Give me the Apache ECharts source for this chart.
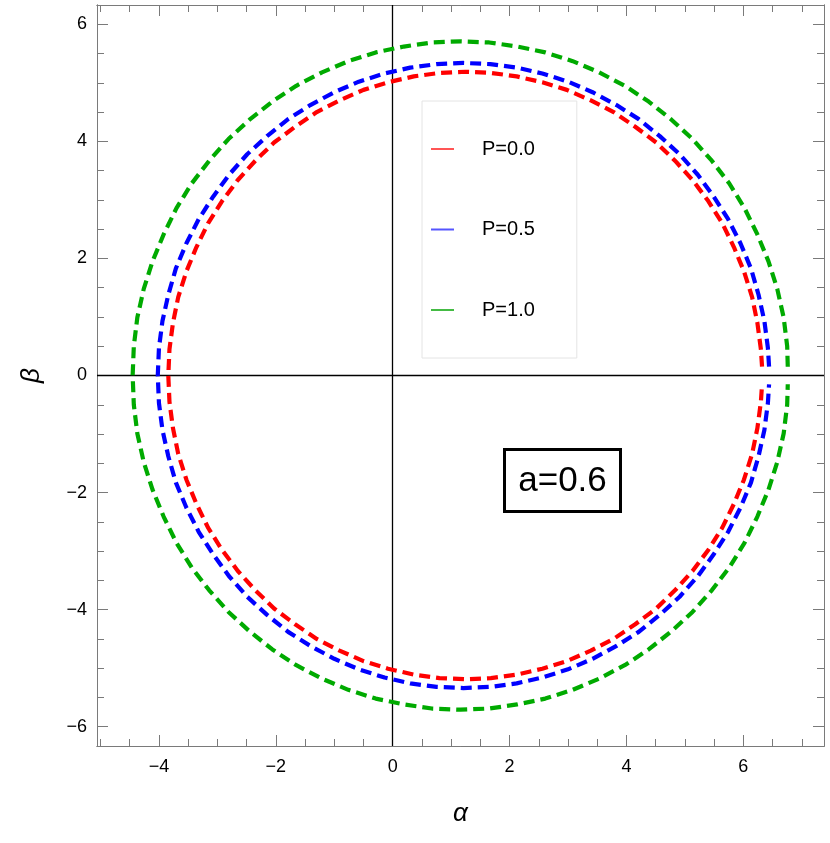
<!DOCTYPE html>
<html>
<head>
<meta charset="utf-8">
<script src="https://cdn.jsdelivr.net/npm/echarts@6/dist/echarts.min.js"></script>
<style>
html,body{margin:0;padding:0;background:#fff;}
#chart{width:830px;height:843px;}
</style>
</head>
<body>
<div id="chart"></div>
<script>
// ---- data ----
const seriesNames = ['P=0.0', 'P=0.5', 'P=1.0'];

const redCurve = [
  [6.32, 0.15], [6.30, 0.45], [6.24, 0.90], [6.15, 1.34], [6.01, 1.78], [5.84, 2.19], [5.64, 2.60],
  [5.40, 2.98], [5.13, 3.34], [4.83, 3.67], [4.51, 3.98], [4.15, 4.25], [3.78, 4.50], [3.39, 4.70],
  [2.98, 4.88], [2.56, 5.01], [2.12, 5.11], [1.68, 5.17], [1.24, 5.19],
  [0.80, 5.17], [0.36, 5.11], [-0.08, 5.01], [-0.50, 4.88], [-0.91, 4.70], [-1.30, 4.50], [-1.67, 4.25],
  [-2.03, 3.98], [-2.35, 3.67], [-2.65, 3.34], [-2.92, 2.98], [-3.16, 2.60], [-3.36, 2.19], [-3.53, 1.78],
  [-3.67, 1.34], [-3.76, 0.90], [-3.82, 0.45], [-3.84, 0.00],
  [-3.82, -0.45], [-3.76, -0.90], [-3.67, -1.34], [-3.53, -1.78], [-3.36, -2.19], [-3.16, -2.60], [-2.92, -2.98],
  [-2.65, -3.34], [-2.35, -3.67], [-2.03, -3.98], [-1.67, -4.25], [-1.30, -4.50], [-0.91, -4.70], [-0.50, -4.88],
  [-0.08, -5.01], [0.36, -5.11], [0.80, -5.17], [1.24, -5.19],
  [1.68, -5.17], [2.12, -5.11], [2.56, -5.01], [2.98, -4.88], [3.39, -4.70], [3.78, -4.50], [4.15, -4.25],
  [4.51, -3.98], [4.83, -3.67], [5.13, -3.34], [5.40, -2.98], [5.64, -2.60], [5.84, -2.19], [6.01, -1.78],
  [6.15, -1.34], [6.24, -0.90], [6.30, -0.45], [6.32, -0.15]
];
const blueCurve = [
  [6.44, 0.15], [6.42, 0.47], [6.36, 0.93], [6.26, 1.38], [6.13, 1.83], [5.95, 2.26], [5.74, 2.67],
  [5.49, 3.06], [5.22, 3.43], [4.91, 3.78], [4.57, 4.09], [4.21, 4.38], [3.83, 4.62], [3.42, 4.84],
  [3.00, 5.02], [2.56, 5.16], [2.12, 5.26], [1.67, 5.32], [1.21, 5.34],
  [0.75, 5.32], [0.30, 5.26], [-0.14, 5.16], [-0.58, 5.02], [-1.00, 4.84], [-1.41, 4.62], [-1.79, 4.38],
  [-2.15, 4.09], [-2.49, 3.78], [-2.80, 3.43], [-3.07, 3.06], [-3.32, 2.67], [-3.53, 2.26], [-3.71, 1.83],
  [-3.84, 1.38], [-3.94, 0.93], [-4.00, 0.47], [-4.02, 0.00],
  [-4.00, -0.47], [-3.94, -0.93], [-3.84, -1.38], [-3.71, -1.83], [-3.53, -2.26], [-3.32, -2.67], [-3.07, -3.06],
  [-2.80, -3.43], [-2.49, -3.78], [-2.15, -4.09], [-1.79, -4.38], [-1.41, -4.62], [-1.00, -4.84], [-0.58, -5.02],
  [-0.14, -5.16], [0.30, -5.26], [0.75, -5.32], [1.21, -5.34],
  [1.67, -5.32], [2.12, -5.26], [2.56, -5.16], [3.00, -5.02], [3.42, -4.84], [3.83, -4.62], [4.21, -4.38],
  [4.57, -4.09], [4.91, -3.78], [5.22, -3.43], [5.49, -3.06], [5.74, -2.67], [5.95, -2.26], [6.13, -1.83],
  [6.26, -1.38], [6.36, -0.93], [6.42, -0.47], [6.44, -0.15]
];
const greenCurve = [
  [6.76, 0.15], [6.75, 0.50], [6.69, 0.99], [6.58, 1.48], [6.43, 1.95], [6.24, 2.41], [6.02, 2.86],
  [5.76, 3.28], [5.46, 3.67], [5.13, 4.04], [4.77, 4.37], [4.38, 4.68], [3.97, 4.95], [3.53, 5.18],
  [3.08, 5.37], [2.61, 5.52], [2.13, 5.62], [1.65, 5.69], [1.16, 5.71],
  [0.67, 5.69], [0.19, 5.62], [-0.29, 5.52], [-0.76, 5.37], [-1.21, 5.18], [-1.65, 4.95], [-2.06, 4.68],
  [-2.45, 4.37], [-2.81, 4.04], [-3.14, 3.67], [-3.44, 3.28], [-3.70, 2.86], [-3.92, 2.41], [-4.11, 1.95],
  [-4.26, 1.48], [-4.37, 0.99], [-4.43, 0.50], [-4.45, 0.00],
  [-4.43, -0.50], [-4.37, -0.99], [-4.26, -1.48], [-4.11, -1.95], [-3.92, -2.41], [-3.70, -2.86], [-3.44, -3.28],
  [-3.14, -3.67], [-2.81, -4.04], [-2.45, -4.37], [-2.06, -4.68], [-1.65, -4.95], [-1.21, -5.18], [-0.76, -5.37],
  [-0.29, -5.52], [0.19, -5.62], [0.67, -5.69], [1.16, -5.71],
  [1.65, -5.69], [2.13, -5.62], [2.61, -5.52], [3.08, -5.37], [3.53, -5.18], [3.97, -4.95], [4.38, -4.68],
  [4.77, -4.37], [5.13, -4.04], [5.46, -3.67], [5.76, -3.28], [6.02, -2.86], [6.24, -2.41], [6.43, -1.95],
  [6.58, -1.48], [6.69, -0.99], [6.75, -0.50], [6.76, -0.15]
];

const xMajorTicks = [-4, -2, 0, 2, 4, 6];
const yMajorTicks = [-6, -4, -2, 0, 2, 4, 6];
const xMinorTicks = [-5, -4.5, -3.5, -3, -2.5, -1.5, -1, -0.5, 0.5, 1, 1.5, 2.5, 3, 3.5, 4.5, 5, 5.5, 6.5, 7];
const yMinorTicks = [-5.5, -5, -4.5, -3.5, -3, -2.5, -1.5, -1, -0.5, 0.5, 1, 1.5, 2.5, 3, 3.5, 4.5, 5, 5.5];
const xRange = [-5.06, 7.38];
const yRange = [-6.33, 6.33];
const annotationText = 'a=0.6';

// ---- chart ----
const FONT = 'Liberation Sans, Arial, sans-serif';
const minus = v => String(v).replace('-', '\u2212');
const frameColor = '#7a7a7a';

function makeAxis(dim, pos, ticks, len, withLabel, extra) {
  const isX = dim === 'x';
  const ax = {
    type: 'value',
    position: pos,
    min: isX ? xRange[0] : yRange[0],
    max: isX ? xRange[1] : yRange[1],
    axisLine: { show: true, onZero: false, lineStyle: { color: frameColor, width: 1 } },
    axisTick: { show: true, inside: true, length: len, customValues: ticks,
                lineStyle: { color: frameColor, width: 1 } },
    axisLabel: withLabel ? {
      show: true, customValues: ticks, formatter: minus,
      fontFamily: FONT, fontSize: 18, color: '#000',
      margin: isX ? 12 : 10
    } : { show: false },
    splitLine: { show: false },
    minorTick: { show: false }
  };
  return Object.assign(ax, extra || {});
}

const chart = echarts.init(document.getElementById('chart'), null, { renderer: 'canvas' });

const curveStyle = (color) => ({ color: color, width: 4.2, type: [11, 6], cap: 'butt', join: 'round' });

const option = {
  backgroundColor: '#fff',
  animation: false,
  grid: { left: 97, right: 6, top: 5, bottom: 97, containLabel: false },
  xAxis: [
    makeAxis('x', 'bottom', xMajorTicks, 11, true, {
      name: '\u03b1', nameLocation: 'middle', nameGap: 55,
      nameTextStyle: { fontFamily: FONT, fontSize: 26, fontStyle: 'italic', color: '#000' }
    }),
    makeAxis('x', 'bottom', xMinorTicks, 7, false),
    makeAxis('x', 'top', xMajorTicks, 11, false),
    makeAxis('x', 'top', xMinorTicks, 7, false)
  ],
  yAxis: [
    makeAxis('y', 'left', yMajorTicks, 11, true, {
      name: '\u03b2', nameLocation: 'middle', nameGap: 52, nameRotate: 90,
      nameTextStyle: { fontFamily: FONT, fontSize: 26, fontStyle: 'italic', color: '#000' }
    }),
    makeAxis('y', 'left', yMinorTicks, 7, false),
    makeAxis('y', 'right', yMajorTicks, 11, false),
    makeAxis('y', 'right', yMinorTicks, 7, false)
  ],
  legend: {
    orient: 'vertical',
    left: 422, top: 101,
    padding: [37, 42, 37, 9],
    itemWidth: 23, itemHeight: 2, itemGap: 58.5,
    borderColor: '#e4e4e4', borderWidth: 1,
    backgroundColor: '#fff',
    textStyle: { fontFamily: FONT, fontSize: 20, lineHeight: 22, color: '#000', padding: [0, 0, 0, 23] },
    data: [
      { name: seriesNames[0], icon: 'rect', itemStyle: { color: '#ff5555' } },
      { name: seriesNames[1], icon: 'rect', itemStyle: { color: '#5555ff' } },
      { name: seriesNames[2], icon: 'rect', itemStyle: { color: '#44bb44' } }
    ],
    selectedMode: false
  },
  series: [
    {
      name: seriesNames[2], type: 'line', data: greenCurve, smooth: false, showSymbol: false, symbol: 'none',
      color: '#00aa00', lineStyle: curveStyle('#00aa00'), z: 3,
      markLine: {
        silent: true, symbol: ['none', 'none'], label: { show: false },
        lineStyle: { color: '#000', width: 1.3, type: 'solid' },
        emphasis: { disabled: true },
        data: [{ xAxis: 0 }, { yAxis: 0 }], z: 1
      }
    },
    {
      name: seriesNames[1], type: 'line', data: blueCurve, smooth: false, showSymbol: false, symbol: 'none',
      color: '#0000ff', lineStyle: curveStyle('#0000ff'), z: 3
    },
    {
      name: seriesNames[0], type: 'line', data: redCurve, smooth: false, showSymbol: false, symbol: 'none',
      color: '#ff0000', lineStyle: curveStyle('#ff0000'), z: 3
    }
  ],
  graphic: [
    {
      type: 'rect', z: 10,
      shape: { x: 504.5, y: 449.5, width: 116, height: 62 },
      style: { fill: '#fff', stroke: '#000', lineWidth: 3 }
    },
    {
      type: 'text', z: 11, x: 562.5, y: 481,
      style: { text: annotationText, font: '35px ' + FONT, fill: '#000', align: 'center', verticalAlign: 'middle' }
    }
  ]
};
chart.setOption(option);
</script>
</body>
</html>
